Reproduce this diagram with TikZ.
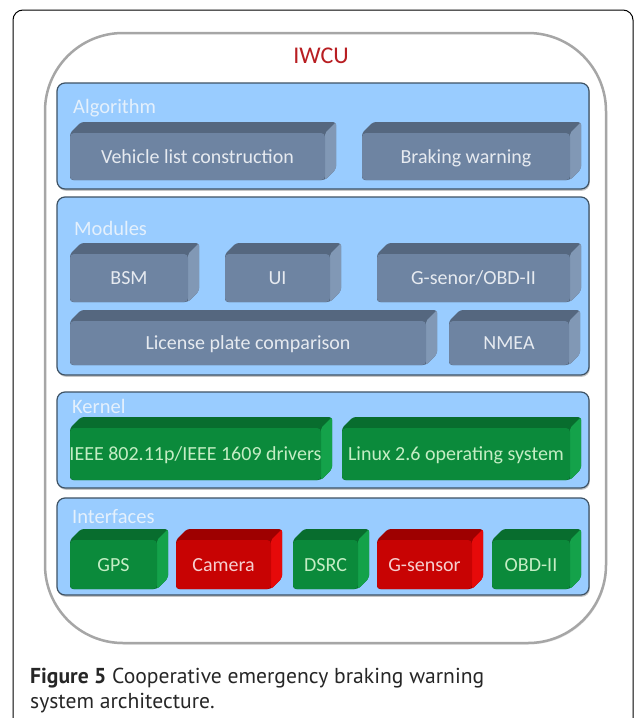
\documentclass[tikz,border=0pt]{standalone}
\usepackage{fontspec}
\setmainfont{Carlito}
\newfontfamily\capfont{PT Sans}
\usetikzlibrary{shadows}

% layer panels
\definecolor{panelfill}{HTML}{99CCFF}
\definecolor{paneledge}{HTML}{3E5264}
\definecolor{paneltext}{HTML}{E4F0FC}
% slate blocks
\definecolor{slatefront}{HTML}{6E84A2}
\definecolor{slatetop}{HTML}{55677F}
\definecolor{slateside}{HTML}{8198B5}
\definecolor{slatetext}{HTML}{E6EAF0}
% green blocks
\definecolor{grnfront}{HTML}{0B8A3B}
\definecolor{grntop}{HTML}{086D2E}
\definecolor{grnside}{HTML}{14A24A}
\definecolor{grntext}{HTML}{C4EDC4}
% red blocks
\definecolor{redfront}{HTML}{C80303}
\definecolor{redtop}{HTML}{9E0000}
\definecolor{redside}{HTML}{E60A0A}
\definecolor{redtext}{HTML}{F6CFCF}
\definecolor{unitred}{HTML}{B81E22}
\definecolor{unitedge}{HTML}{A6A6A6}

\tikzset{
  boxlabel/.style={inner sep=0pt, text height=13pt, text depth=0pt,
    font=\fontsize{20}{20}\selectfont},
  layerlabel/.style={anchor=west, inner sep=0pt, text height=13pt, text depth=0pt,
    text=paneltext, font=\fontsize{20.5}{20}\selectfont},
  layer/.style={fill=panelfill, draw=paneledge, line width=1.2pt, rounded corners=8pt,
    drop shadow={shadow xshift=0.8pt, shadow yshift=-1.8pt, opacity=0.45}},
  unit/.style={fill=white, draw=unitedge, line width=2.5pt, rounded corners=78pt,
    drop shadow={shadow xshift=1pt, shadow yshift=-1.5pt, opacity=0.2}},
  captext/.style={anchor=base west, inner sep=0pt, text=black!85,
    font=\capfont\fontsize{21.6}{25}\selectfont},
}

% 3-D block: name, x0, y0, x1, y1, colour set, text
\newcommand\blockbox[7]{%
  \fill[#6top, rounded corners=3pt] (#2,{#3+11}) -- ({#2+11},#3) -- (#4,#3)
      -- (#4,{#5-11}) -- ({#4-11},#5) -- (#2,#5) -- cycle;
  \fill[#6side, rounded corners=2pt] ({#4-11},{#3+11}) -- (#4,#3)
      -- (#4,{#5-11}) -- ({#4-11},#5) -- cycle;
  \fill[#6front, rounded corners=4pt] (#2,{#3+11}) rectangle ({#4-11},#5);
  \node[boxlabel, text=#6text] (#1) at ({(#2+#4-11)/2},{(#3+11+#5)/2}) {#7};
}

\begin{document}
\begin{tikzpicture}[x=1pt, y=-1pt]
  \useasboundingbox (0,0) rectangle (634,718);
  \clip (0,0) rectangle (634,718);

  % outer figure frame
  \draw[line width=1pt, rounded corners=10pt] (13,10) rectangle (633,780);

  % IWCU container
  \path[unit] (45,33) rectangle (606,643);
  \node[inner sep=0pt, text height=15.5pt, text depth=0pt, text=unitred,
        font=\fontsize{24}{24}\selectfont] (iwcu) at (321,55.5) {IWCU};

  % Algorithm layer
  \path[layer] (57,83) rectangle (589,189);
  \node[layerlabel] (alg) at (73,107) {Algorithm};
  \blockbox{vlc}{70}{122}{336}{180}{slate}{Vehicle list construction}
  \blockbox{bw}{362}{122}{581}{180}{slate}{Braking warning}

  % Modules layer
  \path[layer] (57,197) rectangle (589,375);
  \node[layerlabel] (mod) at (74,229) {Modules};
  \blockbox{bsm}{70}{243}{199}{302}{slate}{BSM}
  \blockbox{ui}{225}{243}{341}{302}{slate}{UI}
  \blockbox{gobd}{377}{243}{581}{302}{slate}{G-senor/OBD-II}
  \blockbox{lpc}{70}{310}{437}{365}{slate}{License plate comparison}
  \blockbox{nmea}{449}{310}{580}{365}{slate}{NMEA}

  % Kernel layer
  \path[layer] (57,392) rectangle (589,488);
  \node[layerlabel] (ker) at (72,407) {Kernel};
  \blockbox{drv}{70}{417}{332}{480}{grn}{IEEE 802.11p/IEEE 1609 drivers}
  \blockbox{os}{342}{417}{581}{480}{grn}{Linux 2.6 operating system}

  % Interfaces layer
  \path[layer] (57,498) rectangle (589,595);
  \node[layerlabel] (ifc) at (72,517) {Interfaces};
  \blockbox{gps}{70}{529}{168}{589}{grn}{GPS}
  \blockbox{cam}{176}{529}{282}{589}{red}{Camera}
  \blockbox{dsrc}{293}{529}{369}{589}{grn}{DSRC}
  \blockbox{gsen}{377}{529}{483}{589}{red}{G-sensor}
  \blockbox{obd}{492}{529}{581}{589}{grn}{OBD-II}

  % caption
  \node[captext] (cap1) at (30,683)
    {\textbf{Figure 5} Cooperative emergency braking warning};
  \node[captext] (cap2) at (30,708) {system architecture.};
\end{tikzpicture}
\end{document}
